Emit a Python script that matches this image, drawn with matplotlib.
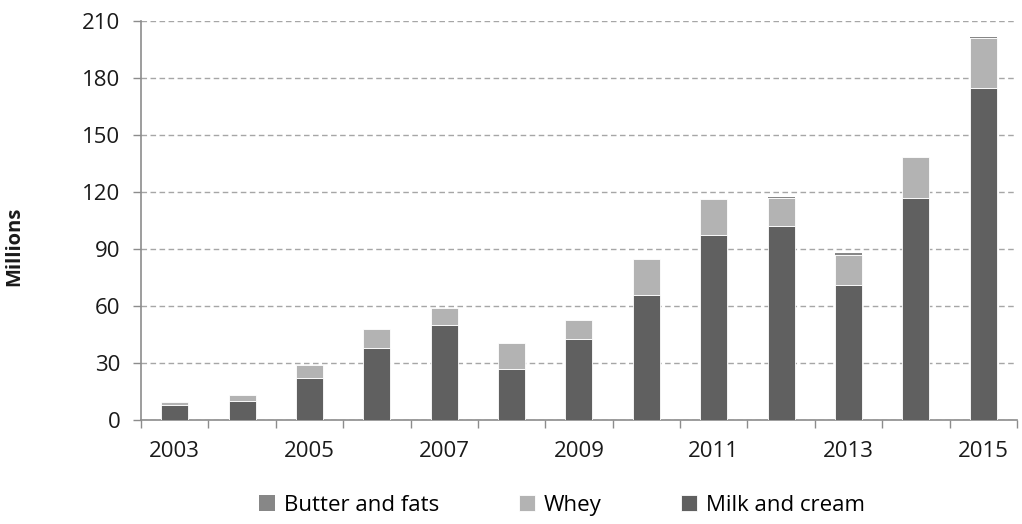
import numpy as np
import matplotlib.pyplot as plt
from matplotlib.ticker import FixedLocator

years = [2003, 2004, 2005, 2006, 2007, 2008, 2009, 2010, 2011, 2012, 2013, 2014, 2015]
milk_cream = [7.7, 10.0, 22.0, 38.0, 49.8, 26.8, 42.8, 65.8, 97.4, 102.1, 70.9, 117.0, 174.8]
whey = [1.6, 3.2, 7.0, 9.8, 9.3, 13.8, 9.8, 18.7, 18.9, 14.7, 15.8, 21.6, 26.0]
butter_fats = [0.0, 0.0, 0.0, 0.0, 0.0, 0.0, 0.0, 0.0, 0.0, 0.7, 1.4, 0.0, 0.5]
y_ticks = [0, 30, 60, 90, 120, 150, 180, 210]

plt.rcParams['font.family'] = ['Open Sans', 'DejaVu Sans']

milk_col = '#606060'
whey_col = '#b3b3b3'
butter_col = '#878787'
axis_col = '#8c8c8c'
txt_col = '#1a1a1a'

fig = plt.figure(figsize=(10.22, 5.24), dpi=100)
ax = fig.add_axes([0.138, 0.1985, 0.857, 0.7615])

x = np.arange(len(years))
milk = np.array(milk_cream)
wh = np.array(whey)
bf = np.array(butter_fats)
w = 0.4

b_milk = ax.bar(x, milk, w, color=milk_col, edgecolor='white', linewidth=0.6, zorder=3)
b_whey = ax.bar(x, wh, w, bottom=milk, color=whey_col, edgecolor='white', linewidth=0.6, zorder=3)
b_butter = ax.bar(x, bf, w, bottom=milk + wh, color=butter_col, edgecolor='none', linewidth=0, zorder=3)

ax.set_xlim(-0.5, len(years) - 0.5)
ax.set_ylim(0, 210)
ax.set_yticks(y_ticks)
ax.set_yticklabels([str(v) for v in y_ticks], fontsize=16, color=txt_col)

ax.set_xticks(x[::2])
ax.set_xticklabels([str(y) for y in years[::2]], fontsize=16, color=txt_col)
ax.xaxis.set_minor_locator(FixedLocator(np.arange(-0.5, len(years), 1.0)))
ax.tick_params(axis='x', which='major', length=0, pad=15)
ax.tick_params(axis='x', which='minor', length=6, width=1, color=axis_col)
ax.tick_params(axis='y', length=6, width=1, color=axis_col, pad=9)

ax.grid(axis='y', linestyle=(0, (4, 2.5)), color='#a6a6a6', linewidth=1, zorder=0)
for s in ['top', 'right']:
    ax.spines[s].set_visible(False)
for s in ['left', 'bottom']:
    ax.spines[s].set_color(axis_col)
    ax.spines[s].set_linewidth(1.2)

fig.text(0.0135, 0.529, 'Millions', rotation=90, ha='center', va='center',
         fontsize=14.5, fontweight='bold', color=txt_col)

fig.legend([b_butter, b_whey, b_milk], ['Butter and fats', 'Whey', 'Milk and cream'],
           loc='center', bbox_to_anchor=(0.55, 0.036), ncol=3, frameon=False,
           fontsize=16, handlelength=0.7, handleheight=0.7, handletextpad=0.4,
           columnspacing=3.6, borderpad=0)

fig.savefig('out.png', dpi=100)
